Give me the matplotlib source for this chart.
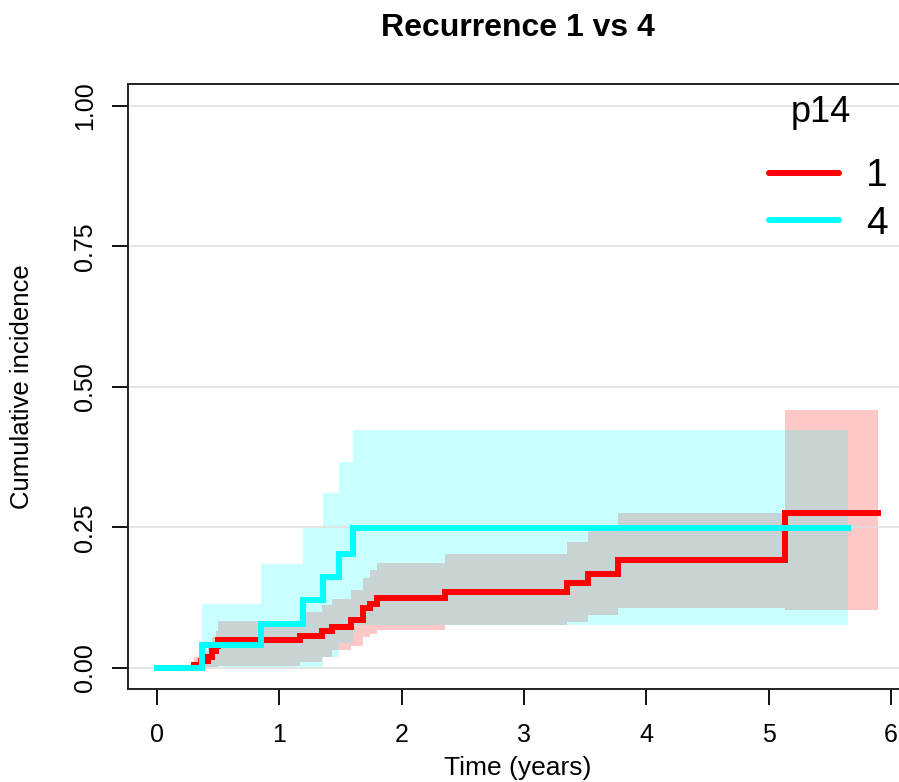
import matplotlib
matplotlib.use("Agg")
import matplotlib.pyplot as plt
from matplotlib.lines import Line2D

plt.rcParams["font.family"] = ["Liberation Sans", "DejaVu Sans"]

# p14 = 1 : cumulative incidence and confidence band
red_time = [0, 0.30, 0.36, 0.42, 0.45, 0.48, 0.50, 1.17, 1.345, 1.43, 1.59,
            1.68, 1.74, 1.80, 2.353, 3.35, 3.52, 3.77, 5.13, 5.89]
red_est = [0, 0.006, 0.012, 0.020, 0.030, 0.040, 0.049, 0.057, 0.065, 0.073,
           0.085, 0.107, 0.114, 0.125, 0.136, 0.151, 0.168, 0.192, 0.275, 0.275]
red_upper = [0, 0.020, 0.030, 0.045, 0.055, 0.065, 0.084, 0.100, 0.112, 0.122,
             0.139, 0.160, 0.174, 0.187, 0.203, 0.225, 0.243, 0.276, 0.459, 0.459]
red_lower = [0, 0, 0, 0, 0.001, 0.002, 0.004, 0.010, 0.020, 0.032,
             0.040, 0.055, 0.060, 0.068, 0.077, 0.082, 0.094, 0.107, 0.103, 0.103]

# p14 = 4
cyan_time = [0, 0.365, 0.847, 1.196, 1.354, 1.49, 1.60, 5.645]
cyan_est = [0, 0.041, 0.078, 0.121, 0.161, 0.203, 0.249, 0.249]
cyan_upper = [0, 0.114, 0.185, 0.249, 0.311, 0.367, 0.424, 0.424]
cyan_lower = [0, 0.001, 0.001, 0.001, 0.020, 0.045, 0.0765, 0.0765]

groups = ["1", "4"]
x_ticks = [0, 1, 2, 3, 4, 5, 6]
y_ticks = [0, 0.25, 0.5, 0.75, 1.0]
y_tick_labels = ["0.00", "0.25", "0.50", "0.75", "1.00"]

fig = plt.figure(figsize=(8.99, 7.82), dpi=100)
# axes box: left 128px, right 907px (past the edge), top 84px, bottom 689px
ax = fig.add_axes([128 / 899, 1 - 689 / 782, 779 / 899, 605 / 782])
ax.set_xlim(-0.2366, 6.13)
ax.set_ylim(-0.0374, 1.0391)

ax.fill_between(red_time, red_lower, red_upper, step="post",
                color="red", alpha=0.215, linewidth=0, zorder=1)
ax.fill_between(cyan_time, cyan_lower, cyan_upper, step="post",
                color="cyan", alpha=0.215, linewidth=0, zorder=1)

for y in y_ticks:
    ax.axhline(y, color="#dedede", linewidth=1.1, zorder=2)

ax.step(red_time, red_est, where="post", color="red", linewidth=4.3,
        solid_joinstyle="miter", zorder=3)
ax.step(cyan_time, cyan_est, where="post", color="cyan", linewidth=4.3,
        solid_joinstyle="miter", zorder=4)

ax.set_xticks(x_ticks)
ax.set_yticks(y_ticks)
ax.set_yticklabels(y_tick_labels, rotation=90, va="center")
ax.tick_params(axis="both", direction="out", length=11.5, width=1.4,
               labelsize=18, color="#111111")
ax.tick_params(axis="x", pad=13)
ax.tick_params(axis="y", pad=11)

for side in ["left", "bottom", "top", "right"]:
    ax.spines[side].set_linewidth(1.4)
    ax.spines[side].set_color("#222222")

ax.set_xlabel("Time (years)", fontsize=19, va="center")
ax.xaxis.set_label_coords(0.5, -0.1306)
ax.set_ylabel("Cumulative incidence", fontsize=18.5, va="center")
ax.yaxis.set_label_coords(-0.136, 0.5)
ax.set_title("Recurrence 1 vs 4", fontsize=23, fontweight="bold",
             y=1.093, va="center", pad=0)

handles = [Line2D([], [], color="red", linewidth=4.3, solid_capstyle="round"),
           Line2D([], [], color="cyan", linewidth=4.3, solid_capstyle="round")]
ax.legend(handles, groups, frameon=False,
          loc="center left", bbox_to_anchor=(769 / 899, 1 - 200 / 782),
          bbox_transform=fig.transFigure, borderpad=0, borderaxespad=0,
          fontsize=28, handlelength=1.8, handletextpad=0.7,
          labelspacing=0.3)
fig.text(821 / 899, 1 - 113 / 782, "p14", fontsize=26, ha="center",
         va="center")

fig.savefig("out.png", dpi=100)
